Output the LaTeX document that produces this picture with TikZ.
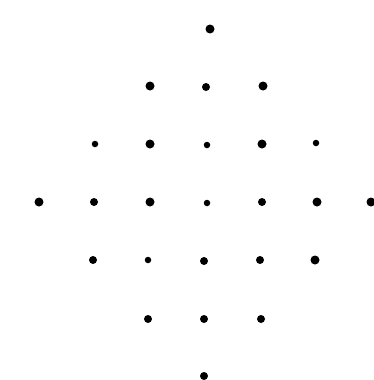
\documentclass[tikz,border=0pt]{standalone}
\begin{document}
\begin{tikzpicture}[x=1pt,y=-1pt,
  dotL/.style={circle,fill=black,inner sep=0pt,minimum size=9pt},
  dotM/.style={circle,fill=black,inner sep=0pt,minimum size=8pt},
  dotS/.style={circle,fill=black,inner sep=0pt,minimum size=6.5pt}]
\useasboundingbox (0,0) rectangle (374,380);
% row 1
\node[dotL] (a1) at (210,29) {};
% row 2
\node[dotL] (b1) at (150,86) {};
\node[dotM] (b2) at (206,87) {};
\node[dotL] (b3) at (263,86) {};
% row 3
\node[dotS] (c1) at (95,144) {};
\node[dotL] (c2) at (150,144) {};
\node[dotS] (c3) at (207,145) {};
\node[dotL] (c4) at (262,144) {};
\node[dotS] (c5) at (316,143) {};
% row 4
\node[dotL] (d1) at (39,202) {};
\node[dotM] (d2) at (94,202) {};
\node[dotL] (d3) at (150,202) {};
\node[dotS] (d4) at (207,203) {};
\node[dotM] (d5) at (262,202) {};
\node[dotL] (d6) at (317,202) {};
\node[dotL] (d7) at (371,202) {};
% row 5
\node[dotM] (e1) at (93,260) {};
\node[dotS] (e2) at (148,260) {};
\node[dotM] (e3) at (204,261) {};
\node[dotM] (e4) at (260,260) {};
\node[dotL] (e5) at (315,260) {};
% row 6
\node[dotM] (f1) at (148,319) {};
\node[dotM] (f2) at (204,319) {};
\node[dotM] (f3) at (261,319) {};
% row 7
\node[dotM] (g1) at (204,376) {};
\end{tikzpicture}
\end{document}
